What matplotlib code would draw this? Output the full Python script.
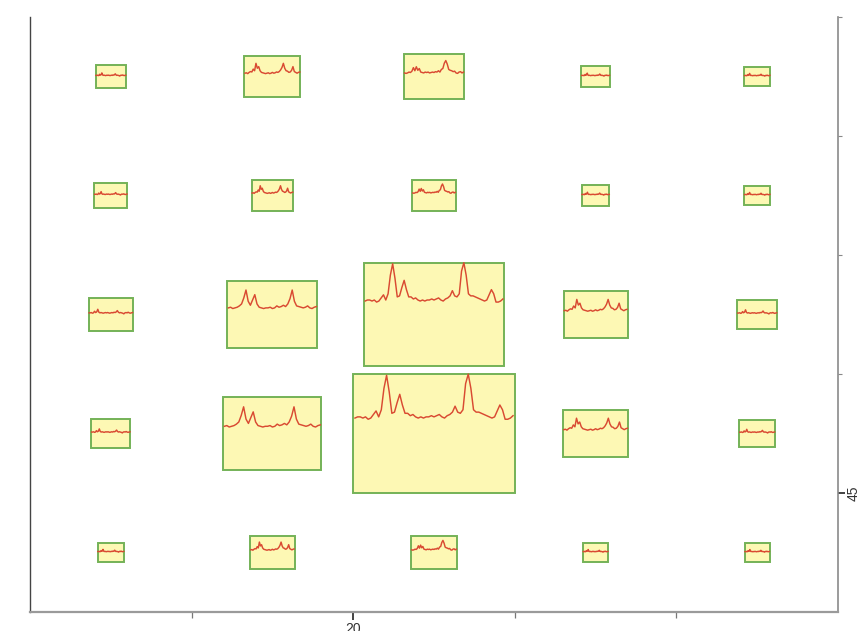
import matplotlib
matplotlib.use("Agg")
import matplotlib.pyplot as plt
from matplotlib.patches import Rectangle
from matplotlib.ticker import FixedLocator, FixedFormatter

plt.rcParams['font.family'] = ['Liberation Sans Narrow', 'Liberation Sans', 'DejaVu Sans']

# Grid of sample positions (data units)
col_x = [12.5, 17.5, 22.5, 27.5, 32.5]
row_y = [62.5, 57.5, 52.5, 47.5, 42.5]

# Box size (data units, square in data space) for each row (top to bottom) / column
box_size = [
    [0.94, 1.73, 1.86, 0.88, 0.80],
    [1.02, 1.28, 1.34, 0.86, 0.80],
    [1.37, 2.78, 4.35, 1.98, 1.23],
    [1.21, 3.03, 4.99, 2.01, 1.10],
    [0.82, 1.37, 1.41, 0.78, 0.77],
]

# Which spectrum is drawn in each box
box_spec = [
    ["E", "C", "D", "E", "E"],
    ["E", "C", "D", "E", "E"],
    ["E", "B", "A", "C", "E"],
    ["E", "B", "A", "C", "E"],
    ["E", "C", "D", "E", "E"],
]

# Spectra, as fraction of box height
spec_A = [0.63, 0.64, 0.64, 0.63, 0.64, 0.62, 0.63, 0.66, 0.69, 0.64, 0.70,
          0.88, 0.99, 0.85, 0.67, 0.68, 0.76, 0.83, 0.74, 0.67, 0.67,
          0.65, 0.66, 0.64, 0.63, 0.64, 0.63, 0.64, 0.64, 0.65, 0.64,
          0.65, 0.66, 0.64, 0.63, 0.65, 0.66, 0.68, 0.73, 0.68, 0.67,
          0.70, 0.92, 1.00, 0.88, 0.70, 0.68, 0.68, 0.67, 0.66, 0.65,
          0.64, 0.63, 0.64, 0.69, 0.74, 0.70, 0.62, 0.62, 0.63, 0.65]
spec_B = [0.60, 0.61, 0.59, 0.60, 0.61, 0.63, 0.66, 0.75, 0.87, 0.70, 0.64,
          0.72, 0.80, 0.66, 0.61, 0.60, 0.59, 0.60, 0.60, 0.61, 0.59,
          0.60, 0.63, 0.61, 0.62, 0.64, 0.62, 0.66, 0.74, 0.87, 0.70,
          0.63, 0.62, 0.61, 0.60, 0.61, 0.63, 0.60, 0.59, 0.61, 0.62]
spec_C = [0.58, 0.59, 0.57, 0.60, 0.62, 0.61, 0.68, 0.64, 0.82, 0.70, 0.74,
          0.64, 0.60, 0.59, 0.58, 0.57, 0.58, 0.59, 0.57, 0.58, 0.60,
          0.58, 0.59, 0.61, 0.60, 0.62, 0.66, 0.72, 0.82, 0.70, 0.64,
          0.63, 0.60, 0.61, 0.65, 0.74, 0.62, 0.60, 0.58, 0.60, 0.61]
spec_D = [0.58, 0.57, 0.58, 0.60, 0.59, 0.62, 0.70, 0.63, 0.72, 0.64, 0.68,
          0.60, 0.59, 0.58, 0.60, 0.59, 0.60, 0.58, 0.59, 0.60, 0.59,
          0.61, 0.60, 0.63, 0.60, 0.66, 0.68, 0.80, 0.86, 0.78, 0.66,
          0.64, 0.63, 0.61, 0.62, 0.58, 0.57, 0.60, 0.61, 0.58, 0.60]
spec_E = [0.55, 0.55, 0.56, 0.54, 0.55, 0.60, 0.56, 0.58, 0.66, 0.57, 0.55,
          0.56, 0.55, 0.54, 0.55, 0.56, 0.55, 0.56, 0.55, 0.54, 0.55,
          0.56, 0.55, 0.57, 0.56, 0.58, 0.62, 0.57, 0.55, 0.56, 0.55,
          0.54, 0.52, 0.55, 0.56, 0.55, 0.57, 0.55, 0.54, 0.55, 0.56]
spectra = {"A": spec_A, "B": spec_B, "C": spec_C, "D": spec_D, "E": spec_E}

x_major = [20]
x_major_labels = ["20"]
x_minor = [15, 25, 30]
y_major = [45]
y_major_labels = ["45"]
y_minor = [50, 55, 60, 65]

fig = plt.figure(figsize=(8.61, 6.31), dpi=100)
ax = fig.add_axes([30 / 861, 19 / 631, 808 / 861, 595 / 631])
ax.set_xlim(10, 35)
ax.set_ylim(40, 65)

fill_c = "#fdf8b4"
edge_c = "#74b257"
line_c = "#d94a32"

for r, yc in enumerate(row_y):
    for c, xc in enumerate(col_x):
        s = box_size[r][c]
        x0, y0 = xc - s / 2, yc - s / 2
        ax.add_patch(Rectangle((x0, y0), s, s, facecolor=fill_c,
                               edgecolor=edge_c, linewidth=1.4, zorder=2))
        sp = spectra[box_spec[r][c]]
        n = len(sp)
        xs = [x0 + s * (0.01 + 0.98 * i / (n - 1)) for i in range(n)]
        ys = [y0 + s * v for v in sp]
        ax.plot(xs, ys, color=line_c, linewidth=1.05, zorder=3)

# Spines
ax.spines['top'].set_visible(False)
ax.spines['left'].set_color('#444444')
ax.spines['left'].set_linewidth(1.0)
ax.spines['bottom'].set_color('#9a9a9a')
ax.spines['bottom'].set_linewidth(1.6)
ax.spines['right'].set_color('#8a8a8a')
ax.spines['right'].set_linewidth(1.2)

# Ticks
ax.xaxis.set_major_locator(FixedLocator(x_major))
ax.xaxis.set_major_formatter(FixedFormatter(x_major_labels))
ax.xaxis.set_minor_locator(FixedLocator(x_minor))
ax.yaxis.set_major_locator(FixedLocator(y_major))
ax.yaxis.set_major_formatter(FixedFormatter(y_major_labels))
ax.yaxis.set_minor_locator(FixedLocator(y_minor))
ax.yaxis.tick_right()
ax.tick_params(axis='x', which='major', length=6, width=1.2, color='#222222',
               labelsize=10, pad=1.5, labelcolor='#333333')
ax.tick_params(axis='x', which='minor', length=4, width=0.9, color='#777777')
ax.tick_params(axis='y', which='major', length=5, width=1.2, color='#222222',
               labelsize=10, pad=1.5, labelcolor='#333333', labelrotation=90,
               left=False, right=True)
ax.tick_params(axis='y', which='minor', length=3, width=0.8, color='#888888',
               left=False, right=True)
for lbl in ax.get_yticklabels():
    lbl.set_verticalalignment('center')

fig.savefig("out.png", dpi=100)
